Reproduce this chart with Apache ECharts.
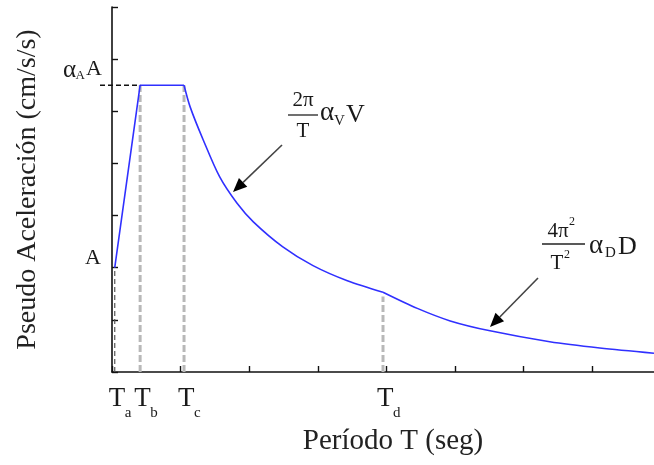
<!DOCTYPE html>
<html>
<head>
<meta charset="utf-8">
<script src="https://cdn.jsdelivr.net/npm/echarts@6/dist/echarts.min.js"></script>
<style>
  html, body { margin: 0; padding: 0; background: #fff; }
  #espectro { width: 654px; height: 465px; }
</style>
</head>
<body>
<div id="espectro"></div>
<script>
// periodos de esquina Ta, Tb, Tc, Td (seg) y sus subindices
const periodos = [0.04, 0.41, 1.05, 3.95];
const subindices = ['a', 'b', 'c', 'd'];
const valorA = 2.0;      // A
const valorPico = 5.5;   // alfaA * A

// tramo controlado por velocidad (Tc .. Td)
const tVel = [1.05, 1.14, 1.33, 1.57, 1.82, 2.06, 2.49, 2.93, 3.43, 3.95];
const saVel = [5.5, 5.08, 4.45, 3.74, 3.24, 2.88, 2.40, 2.04, 1.75, 1.53];
// tramo controlado por desplazamiento (Td .. fin)
const tDes = [3.95, 4.45, 4.93, 5.51, 6.38, 7.11, 7.90];
const saDes = [1.53, 1.22, 0.98, 0.79, 0.58, 0.46, 0.36];

const xTicks = [0, 1, 2, 3, 4, 5, 6, 7];
const yTicks = [0, 1, 2, 3, 4, 5, 6, 7];

const SERIF = '"Liberation Serif", "DejaVu Serif", serif';
const AZUL = '#3030ff';
const NEGRO = '#111';

const zip = (a, b) => a.map((v, i) => [v, b[i]]);

let chart = echarts.init(document.getElementById('espectro'), null, {renderer: 'canvas'});

// lineas verticales punteadas en cada periodo de esquina
const topes = [valorA, valorPico, valorPico, saDes[0] - 0.08];
const verticales = periodos.map((t, i) => ({
  type: 'line',
  silent: true,
  symbol: 'none',
  z: 1,
  data: [[t, 0], [t, topes[i]]],
  lineStyle: i === 0
    ? {color: '#555', width: 1.2, type: [5, 3]}
    : {color: '#b8b8b8', width: 3, type: [7, 3]}
}));

let option = {
  animation: false,
  grid: {left: 112, right: 0, top: 7, bottom: 93},
  xAxis: {
    type: 'value',
    min: 0,
    max: 7.9,
    interval: 1,
    name: 'Período T (seg)',
    nameLocation: 'middle',
    nameGap: 55,
    nameTextStyle: {fontFamily: SERIF, fontSize: 29, color: '#222', padding: [0, 0, 0, 20]},
    axisLine: {lineStyle: {color: NEGRO, width: 1.6}},
    axisTick: {inside: true, length: 6, customValues: xTicks, lineStyle: {color: NEGRO, width: 1.4}},
    axisLabel: {show: false},
    splitLine: {show: false}
  },
  yAxis: {
    type: 'value',
    min: 0,
    max: 7,
    interval: 1,
    name: 'Pseudo Aceleración (cm/s/s)',
    nameLocation: 'middle',
    nameRotate: 90,
    nameGap: 70,
    nameTextStyle: {fontFamily: SERIF, fontSize: 28, color: '#222'},
    axisLine: {lineStyle: {color: NEGRO, width: 1.6}},
    axisTick: {inside: true, length: 6, customValues: yTicks, lineStyle: {color: NEGRO, width: 1.4}},
    axisLabel: {show: false},
    splitLine: {show: false}
  },
  series: [
    ...verticales,
    {
      name: 'rampa',
      type: 'line',
      symbol: 'none',
      z: 3,
      data: [[periodos[0], valorA], [periodos[1], valorPico], [periodos[2], valorPico]],
      lineStyle: {color: AZUL, width: 1.6}
    },
    {
      name: 'velocidad',
      type: 'line',
      symbol: 'none',
      smooth: 0.3,
      z: 3,
      data: zip(tVel, saVel),
      lineStyle: {color: AZUL, width: 1.6}
    },
    {
      name: 'desplazamiento',
      type: 'line',
      symbol: 'none',
      smooth: 0.3,
      z: 3,
      data: zip(tDes, saDes),
      lineStyle: {color: AZUL, width: 1.6}
    }
  ]
};
option && chart.setOption(option);

function texto(x, y, text, size, align, extra) {
  return Object.assign({
    type: 'text', x: x, y: y, z: 10,
    style: {text: text, fill: '#1a1a1a', fontFamily: SERIF, fontSize: size, align: align || 'left', verticalAlign: 'middle'}
  }, extra || {});
}

function flecha(x1, y1, x2, y2) {
  const dx = x2 - x1, dy = y2 - y1;
  const len = Math.sqrt(dx * dx + dy * dy);
  const ux = dx / len, uy = dy / len;
  const bx = x2 - ux * 14, by = y2 - uy * 14;
  return [
    {type: 'line', z: 10, shape: {x1: x1, y1: y1, x2: bx, y2: by}, style: {stroke: '#444', lineWidth: 1.6}},
    {type: 'polygon', z: 10, shape: {points: [[x2, y2], [bx - uy * 6, by + ux * 6], [bx + uy * 6, by - ux * 6]]}, style: {fill: '#000'}}
  ];
}

function graficos() {
  const px = v => chart.convertToPixel({gridIndex: 0}, v);
  const g = [];

  // etiquetas Ta, Tb, Tc, Td bajo el eje
  periodos.forEach((t, i) => {
    const p = px([t, 0]);
    g.push(texto(p[0] - 6, p[1] + 27, 'T', 27));
    g.push(texto(p[0] + 10, p[1] + 41, subindices[i], 15));
  });

  // etiquetas del eje vertical
  const pA = px([0, valorA]);
  g.push(texto(pA[0] - 11, pA[1] - 9, 'A', 22, 'right'));
  const pP = px([0, valorPico]);
  g.push(texto(pP[0] - 10, pP[1] - 16, 'A', 22, 'right'));
  g.push(texto(pP[0] - 27, pP[1] - 10, 'A', 13, 'right'));
  g.push(texto(pP[0] - 36, pP[1] - 15, 'α', 25, 'right'));

  // linea punteada horizontal al valor pico
  const pB = px([periodos[1], valorPico]);
  g.push({type: 'line', z: 5, shape: {x1: pP[0] - 12, y1: pP[1], x2: pB[0], y2: pB[1]},
    style: {stroke: NEGRO, lineWidth: 1.4, lineDash: [5, 3]}});

  // 2pi/T alfaV V
  g.push(texto(303, 100, '2π', 21, 'center'));
  g.push({type: 'line', z: 10, shape: {x1: 288, y1: 115, x2: 318, y2: 115}, style: {stroke: '#222', lineWidth: 1.3}});
  g.push(texto(303, 131, 'T', 21, 'center'));
  g.push(texto(320, 113, 'α', 27));
  g.push(texto(334, 121, 'V', 15));
  g.push(texto(346, 115, 'V', 26));
  g.push(...flecha(282, 145, 233, 192));

  // 4pi^2/T^2 alfaD D
  g.push(texto(558, 231, '4π', 21, 'center'));
  g.push(texto(569, 222, '2', 12));
  g.push({type: 'line', z: 10, shape: {x1: 542, y1: 244, x2: 585, y2: 244}, style: {stroke: '#222', lineWidth: 1.3}});
  g.push(texto(557, 263, 'T', 21, 'center'));
  g.push(texto(564, 255, '2', 12));
  g.push(texto(589, 246, 'α', 27));
  g.push(texto(605, 253, 'D', 15));
  g.push(texto(618, 247, 'D', 26));
  g.push(...flecha(538, 278, 490, 327));

  chart.setOption({graphic: {elements: g}});
}
graficos();
</script>
</body>
</html>
